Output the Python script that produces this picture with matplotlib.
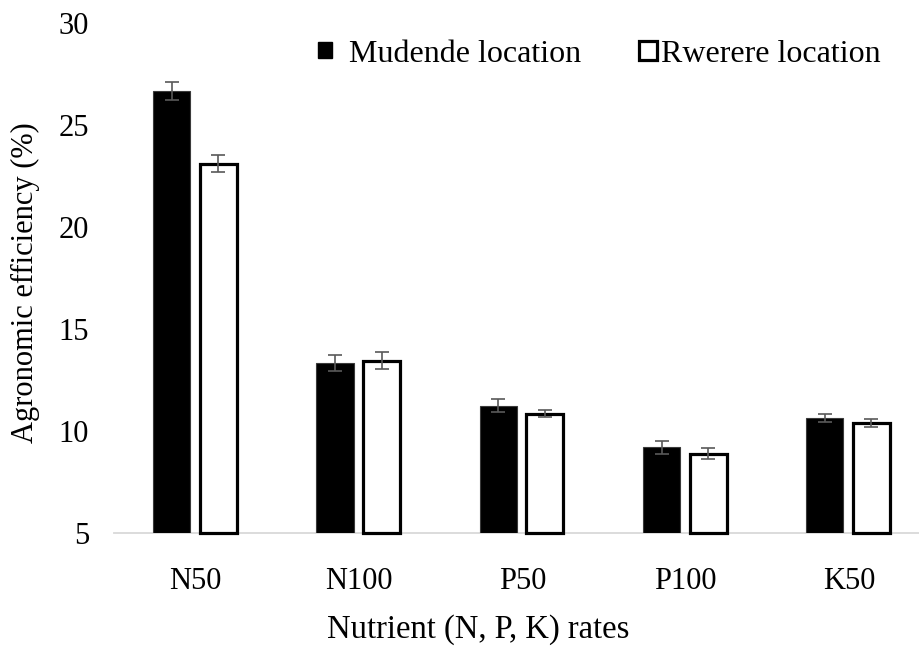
import numpy as np
import matplotlib as mpl
from matplotlib import pyplot as plt
from matplotlib.patches import Patch

# Times-like serif for every text
mpl.rc('font', family=['Liberation Serif', 'DejaVu Serif'])

rates = ['N50', 'N100', 'P50', 'P100', 'K50']
mudende = [26.65, 13.35, 11.25, 9.2, 10.65]
mudende_err = [0.45, 0.4, 0.33, 0.3, 0.2]
rwerere = [23.1, 13.45, 10.85, 8.9, 10.4]
rwerere_err = [0.43, 0.4, 0.16, 0.26, 0.2]


def main():
    fig = plt.figure(figsize=(9.2, 6.51), dpi=100)
    ax = fig.add_axes([0.124, 0.181, 0.876, 0.784])

    x = np.arange(len(rates))
    width = 0.227
    base = 5

    # bars start from the bottom of the value axis
    ax.bar(x - 0.147, np.subtract(mudende, base), width, bottom=base,
           color='black', edgecolor='#3a3a3a', linewidth=0.8, zorder=2)
    ax.bar(x + 0.138, np.subtract(rwerere, base), width, bottom=base,
           color='white', edgecolor='black', linewidth=2.3,
           zorder=2, clip_on=False)

    ax.errorbar(x - 0.147, mudende, yerr=mudende_err, fmt='none',
                ecolor='#595959', elinewidth=1.2, capsize=5, capthick=1.2, zorder=3)
    ax.errorbar(x + 0.138, rwerere, yerr=rwerere_err, fmt='none',
                ecolor='#595959', elinewidth=1.2, capsize=5, capthick=1.2, zorder=3)

    ax.set_xlim(-0.5, 4.435)
    ax.set_ylim(5, 30)
    ax.set_yticks([5, 10, 15, 20, 25, 30])
    ax.set_xticks(x)
    ax.set_xticklabels(rates)

    for side in ['left', 'top', 'right']:
        ax.spines[side].set_visible(False)
    ax.spines['bottom'].set_color('#d9d9d9')
    ax.spines['bottom'].set_linewidth(1.3)
    ax.spines['bottom'].set_zorder(1)

    ax.tick_params(axis='both', length=0, labelsize=22)
    ax.tick_params(axis='y', pad=18)
    ax.tick_params(axis='x', pad=24)

    ax.set_xlabel('Nutrient (N, P, K) rates', fontsize=23.5)
    ax.xaxis.set_label_coords(0.452, -0.158)
    ax.set_ylabel('Agronomic efficiency (%)', fontsize=22)
    ax.yaxis.set_label_coords(-0.092, 0.49)

    # two separate legend entries, each with its own spacing
    leg1 = ax.legend(handles=[Patch(facecolor='black', edgecolor='black')],
                     labels=['Mudende location'],
                     loc='center left', bbox_to_anchor=(0.346, 0.917),
                     bbox_transform=fig.transFigure, frameon=False,
                     fontsize=23, handlelength=0.42, handleheight=0.42,
                     handletextpad=0.55, borderpad=0, borderaxespad=0)
    ax.add_artist(leg1)
    ax.legend(handles=[Patch(facecolor='white', edgecolor='black', linewidth=2.3)],
              labels=['Rwerere location'],
              loc='center left', bbox_to_anchor=(0.695, 0.917),
              bbox_transform=fig.transFigure, frameon=False,
              fontsize=23, handlelength=0.55, handleheight=0.55,
              handletextpad=0.12, borderpad=0, borderaxespad=0)

    fig.savefig('out.png', dpi=100)


if __name__ == '__main__':
    main()
